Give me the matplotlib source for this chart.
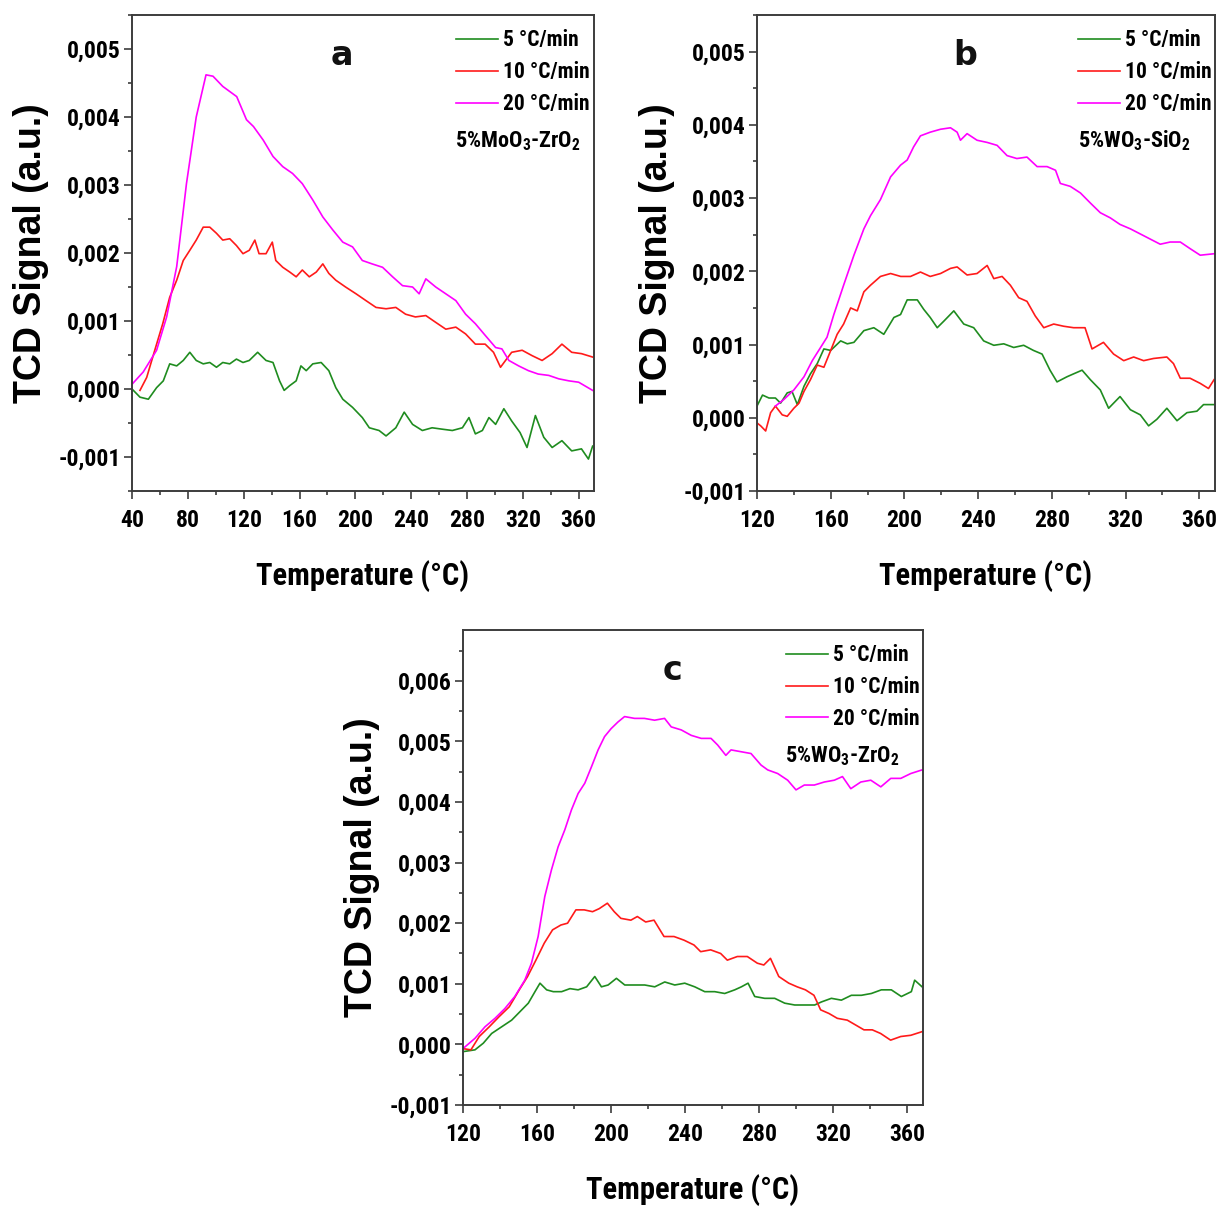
import os
import numpy as np
import matplotlib
matplotlib.use("Agg")
import matplotlib.pyplot as plt
from matplotlib import font_manager as fm
from matplotlib.ticker import MultipleLocator

# TCD signal (values in units of 1e-3 a.u.)
# panel a : 5%MoO3-ZrO2
a_green_T = [40, 45.7, 51.7, 57.6, 62.4, 67, 72, 76.7, 81.4, 86, 91, 95.7, 100.5, 105, 110, 114.8, 119.5, 124,
             130, 136, 141, 145.7, 149, 153, 157.6, 161, 164.8, 169.5, 175.5, 181, 186, 191, 198, 205, 210, 217,
             222, 229, 235, 241, 248, 255, 262, 269.5, 276.7, 281.4, 286, 291, 295.7, 300.5, 306.4, 312, 318,
             323, 329, 335, 341, 348, 355, 362, 367, 370]
a_green_v = [0, -0.12, -0.15, 0.02, 0.12, 0.37, 0.34, 0.42, 0.54, 0.42, 0.37, 0.39, 0.32, 0.39, 0.37, 0.44, 0.39, 0.42,
             0.54, 0.42, 0.39, 0.12, -0.02, 0.05, 0.12, 0.34, 0.27, 0.37, 0.39, 0.27, 0.02, -0.15, -0.27, -0.42, -0.57, -0.61,
             -0.69, -0.57, -0.34, -0.52, -0.61, -0.57, -0.59, -0.61, -0.57, -0.42, -0.66, -0.61, -0.42, -0.52, -0.29, -0.47, -0.64,
             -0.86, -0.39, -0.71, -0.86, -0.76, -0.91, -0.88, -1.03, -0.84]
a_red_T = [45.7, 50.5, 57.6, 62, 67, 72, 76.7, 81.4, 86, 91, 95.7, 100.5, 105, 110, 114.8, 119.5, 124, 128, 131, 136,
           140.5, 143, 148, 153, 157.6, 162, 167, 172, 176.7, 181, 186, 193, 200.5, 207.6, 214.8, 222, 229, 236, 243,
           250.5, 257.6, 264.8, 272, 279, 286, 293, 299, 304, 307.6, 312, 319.5, 326.7, 333.8, 341, 348, 355, 362, 370]
a_red_v = [-0.02, 0.17, 0.66, 0.96, 1.35, 1.6, 1.89, 2.04, 2.19, 2.38, 2.38, 2.29, 2.19, 2.21, 2.11, 1.99, 2.04, 2.19, 1.99, 1.99,
           2.16, 1.89, 1.79, 1.72, 1.65, 1.75, 1.65, 1.72, 1.84, 1.7, 1.6, 1.5, 1.4, 1.3, 1.2, 1.18, 1.2, 1.1, 1.06,
           1.08, 0.98, 0.88, 0.91, 0.81, 0.66, 0.66, 0.54, 0.32, 0.42, 0.54, 0.57, 0.49, 0.42, 0.52, 0.66, 0.54, 0.52, 0.47]
a_mag_T = [40, 48, 57.6, 64.8, 72, 79, 86, 93, 98, 105, 115, 122, 127, 134, 141, 148, 155, 162, 169.5, 176.7, 183.8,
           191, 198, 205, 212, 219.5, 226.7, 233.8, 241, 245.7, 250.5, 257.6, 264.8, 272, 279, 286, 293, 300.5, 305,
           310, 317, 324, 331, 338.6, 345.7, 353, 360, 370]
a_mag_v = [0.07, 0.25, 0.57, 1.06, 1.8, 3.02, 4.0, 4.62, 4.6, 4.45, 4.3, 3.96, 3.86, 3.66, 3.42, 3.27, 3.17, 3.02, 2.78, 2.53, 2.34,
           2.16, 2.09, 1.89, 1.84, 1.79, 1.65, 1.52, 1.5, 1.4, 1.62, 1.5, 1.4, 1.3, 1.1, 0.96, 0.79, 0.61, 0.59,
           0.42, 0.34, 0.27, 0.22, 0.2, 0.15, 0.12, 0.1, -0.02]

# panel b : 5%WO3-SiO2
b_green_T = [120, 123, 126.5, 130, 132.8, 136.4, 139, 141.9, 145.5, 149, 152.7, 156.3, 160, 165.4, 169, 172.6, 178,
             183.4, 188.8, 194.3, 197.9, 201.5, 207, 210.5, 214, 217.8, 221.4, 226.8, 232.2, 237.6, 243, 248.5, 253.9,
             259.3, 264.7, 270, 274.7, 279, 282.8, 288.2, 291.8, 296.4, 300.9, 306.3, 310.8, 317, 322.6, 328, 332.5,
             337, 342.4, 347.9, 353.3, 358.7, 362.3, 368]
b_green_v = [0.16, 0.31, 0.27, 0.27, 0.2, 0.34, 0.36, 0.18, 0.43, 0.6, 0.74, 0.94, 0.92, 1.05, 1.01, 1.03, 1.19,
             1.23, 1.14, 1.37, 1.41, 1.61, 1.61, 1.48, 1.37, 1.23, 1.32, 1.46, 1.28, 1.23, 1.05, 0.99, 1.01,
             0.96, 0.99, 0.92, 0.87, 0.65, 0.49, 0.56, 0.6, 0.65, 0.52, 0.38, 0.13, 0.29, 0.11, 0.04, -0.11,
             -0.02, 0.13, -0.04, 0.07, 0.09, 0.18, 0.18]
b_red_T = [120, 122, 124.7, 127.4, 130, 133.7, 136.4, 140, 142.8, 145.5, 149, 152.7, 156.3, 160, 163.5, 167, 170.8,
           174.4, 178, 181.6, 187, 192.5, 198, 203.3, 208.7, 214, 219.6, 225, 228.6, 234, 239.4, 244.9, 248.5, 253,
           257.5, 262, 266.5, 271, 275.6, 281, 286.4, 291.8, 298, 301.8, 308, 313.5, 319, 324.4, 329.8, 335.2,
           342.4, 346, 349.7, 355, 360.5, 365, 368]
b_red_v = [-0.07, -0.11, -0.18, 0.07, 0.16, 0.04, 0.02, 0.13, 0.2, 0.36, 0.52, 0.72, 0.69, 0.92, 1.14, 1.28, 1.5,
           1.46, 1.72, 1.81, 1.93, 1.97, 1.93, 1.93, 1.99, 1.93, 1.97, 2.04, 2.06, 1.95, 1.97, 2.08, 1.9, 1.93,
           1.81, 1.64, 1.59, 1.39, 1.23, 1.28, 1.25, 1.23, 1.23, 0.94, 1.03, 0.87, 0.78, 0.83, 0.78, 0.81,
           0.83, 0.74, 0.54, 0.54, 0.47, 0.4, 0.52]
b_mag_T = [130, 134.6, 140, 145.5, 150, 154.5, 158, 161.7, 167, 172.6, 178, 181.6, 187, 192.5, 197.9, 201.5, 205,
           208.7, 214, 219.6, 225, 228.6, 230.4, 234, 239.4, 244.9, 250.3, 255.7, 261, 266.5, 272, 277.4, 282,
           284.6, 290, 295.5, 301, 306.3, 311.7, 317, 322.6, 328, 333.4, 338.8, 344.2, 349.7, 355, 360.5, 368]
b_mag_v = [0.16, 0.25, 0.38, 0.56, 0.78, 0.96, 1.1, 1.41, 1.81, 2.22, 2.58, 2.76, 2.98, 3.29, 3.45, 3.52, 3.7,
           3.85, 3.9, 3.94, 3.96, 3.9, 3.79, 3.88, 3.79, 3.76, 3.72, 3.58, 3.54, 3.56, 3.43, 3.43, 3.38,
           3.2, 3.16, 3.07, 2.93, 2.8, 2.73, 2.64, 2.58, 2.51, 2.44, 2.37, 2.4, 2.4, 2.31, 2.22, 2.24]

# panel c : 5%WO3-ZrO2
c_green_T = [120, 126.5, 131, 135.5, 140.9, 146.3, 150.8, 155.3, 158.9, 161.6, 165.2, 168.8, 173.3, 177.8, 182.2,
             186.8, 191.2, 194.8, 198.4, 202.9, 207.4, 212.8, 218.2, 223.6, 229, 234.4, 239.8, 245.2, 250.6, 256,
             261.4, 266.8, 270.4, 274, 277.6, 283, 288.4, 293.8, 299.2, 304.6, 310, 313.6, 319, 324.4, 329.8,
             335.2, 340.6, 346, 351.4, 356.8, 362.2, 364, 368]
c_green_v = [-0.12, -0.09, 0.02, 0.18, 0.29, 0.4, 0.54, 0.68, 0.87, 1.01, 0.9, 0.87, 0.87, 0.92, 0.9,
             0.95, 1.12, 0.95, 0.98, 1.09, 0.98, 0.98, 0.98, 0.95, 1.03, 0.98, 1.01, 0.95, 0.87, 0.87,
             0.84, 0.9, 0.95, 1.01, 0.79, 0.76, 0.76, 0.68, 0.65, 0.65, 0.65, 0.7, 0.76, 0.73, 0.81,
             0.81, 0.84, 0.9, 0.9, 0.79, 0.87, 1.06, 0.95]
c_red_T = [120, 124.3, 128.8, 134.2, 139.6, 145, 150.4, 154.9, 159.4, 163.9, 168.4, 172.9, 176.5, 181, 185.5, 190,
           193.6, 198, 201.7, 205.3, 210.7, 214.2, 218.7, 223.2, 228.6, 234, 239.4, 244.8, 248.4, 253.8, 259.2,
           262.8, 268.2, 273.6, 279, 282.5, 286.1, 290.6, 296, 300.5, 305, 309.6, 313.2, 317.7, 322.2, 327.6,
           332.1, 336.6, 341.1, 345.6, 351, 356.5, 361.9, 368]
c_red_v = [-0.07, -0.09, 0.13, 0.29, 0.46, 0.62, 0.9, 1.12, 1.39, 1.67, 1.89, 1.97, 2.0, 2.22, 2.22, 2.19,
           2.24, 2.33, 2.19, 2.08, 2.05, 2.11, 2.02, 2.05, 1.78, 1.78, 1.72, 1.64, 1.53, 1.56, 1.5,
           1.39, 1.45, 1.45, 1.34, 1.31, 1.42, 1.12, 1.01, 0.95, 0.9, 0.81, 0.57, 0.51, 0.43, 0.4,
           0.32, 0.24, 0.24, 0.18, 0.07, 0.13, 0.15, 0.21]
c_mag_T = [120, 126.5, 131.9, 137.3, 142.6, 148, 153.4, 157, 160.6, 164.2, 167.8, 171.4, 175, 178.6, 182.2, 185.8,
           189.4, 193, 196.5, 200, 203.7, 207.3, 212.7, 218, 223.5, 228.9, 232.5, 237.9, 243.3, 248.7, 254,
           257.6, 262, 264.8, 270.2, 275.6, 281, 284.6, 290, 295.4, 299.9, 304.4, 309.8, 315.2, 320.6, 325,
           329.5, 334.9, 340.3, 345.7, 351.1, 356.5, 361.9, 368]
c_mag_v = [-0.07, 0.1, 0.29, 0.43, 0.59, 0.79, 1.06, 1.34, 1.78, 2.44, 2.88, 3.26, 3.54, 3.87, 4.14, 4.31,
           4.58, 4.86, 5.08, 5.21, 5.32, 5.41, 5.38, 5.38, 5.35, 5.38, 5.24, 5.19, 5.1, 5.05, 5.05,
           4.94, 4.77, 4.86, 4.83, 4.8, 4.61, 4.53, 4.47, 4.36, 4.2, 4.28, 4.28, 4.33, 4.36, 4.42,
           4.22, 4.33, 4.36, 4.25, 4.39, 4.39, 4.47, 4.53]

series_labels = ["5 °C/min", "10 °C/min", "20 °C/min"]
series_colors = ["#1f8c1f", "#ff1a1a", "#ff00ff"]


# the reference uses a condensed bold face (Arial Narrow); take one if the box has it
def find_narrow_bold():
    files = [f.fname for f in fm.fontManager.ttflist]
    for keys in (("liberationsansnarrow", "bold"), ("robotocondensed", "bold"),
                 ("dejavusanscondensed", "bold"), ("condensed", "bold"), ("narrow", "bold")):
        for f in files:
            b = os.path.basename(f).lower().replace("-", "").replace("_", "").replace(" ", "")
            if all(k in b for k in keys) and "italic" not in b and "oblique" not in b:
                return f
    return None


narrow_file = find_narrow_bold()
if narrow_file:
    NFP = fm.FontProperties(fname=narrow_file)
    tick_size, leg_size, lab_size, xl_size = 17, 15.5, 16, 22
else:
    NFP = fm.FontProperties(family="Liberation Sans", weight="bold")
    tick_size, leg_size, lab_size, xl_size = 15, 14, 14.5, 19


def fp(size):
    p = NFP.copy()
    p.set_size(size)
    return p


def comma_fmt(v):
    s = f"{v:.3f}".replace(".", ",")
    if s == "-0,000":
        s = "0,000"
    return s


def make_panel(ax, data, xlim, ylim, xmin, letter, sample):
    for (T, v), lab, col in zip(data, series_labels, series_colors):
        ax.plot(T, np.array(v) * 1e-3, color=col, lw=1.2, label=lab)
    ax.set_xlim(*xlim)
    ax.set_ylim(*ylim)
    xt = np.arange(xmin, xlim[1], 40)
    yt = np.arange(-0.001, ylim[1], 0.001)
    ax.set_xticks(xt)
    ax.set_xticklabels([f"{t:.0f}" for t in xt], fontproperties=fp(tick_size))
    ax.set_yticks(yt)
    ax.set_yticklabels([comma_fmt(t) for t in yt], fontproperties=fp(tick_size))
    ax.xaxis.set_minor_locator(MultipleLocator(20))
    ax.yaxis.set_minor_locator(MultipleLocator(0.0005))
    for s in ax.spines.values():
        s.set_color("#3c3c3c")
        s.set_linewidth(1.4)
    ax.tick_params(which="major", direction="out", length=6, width=1.2, color="#3c3c3c", pad=2)
    ax.tick_params(which="minor", direction="out", length=3, width=1.2, color="#3c3c3c")
    ax.tick_params(axis="x", which="major", pad=7)
    ax.set_ylabel("TCD Signal (a.u.)", family="Liberation Sans", fontsize=27, fontweight="bold")
    ax.yaxis.set_label_coords(-0.18, 0.5)
    ax.set_xlabel("Temperature (°C)", fontproperties=fp(xl_size))
    ax.xaxis.set_label_coords(0.5, -0.145)
    ax.legend(loc="upper left", bbox_to_anchor=(0.702, 0.97), frameon=False, prop=fp(leg_size),
              handlelength=1.95, handletextpad=0.23, labelspacing=0.46, borderaxespad=0, borderpad=0)
    ax.text(0.455, 0.915, letter, transform=ax.transAxes, ha="center", va="center",
            family="DejaVu Sans", fontsize=24, fontweight="bold", color="#111111")
    ax.text(0.70, 0.735, sample, transform=ax.transAxes, ha="left", va="center", fontproperties=fp(lab_size))


fig = plt.figure(figsize=(12.18, 12.10), dpi=100)
ax_a = fig.add_axes([0.1084, 0.5942, 0.3793, 0.3934])
ax_b = fig.add_axes([0.6215, 0.5942, 0.3760, 0.3934])
ax_c = fig.add_axes([0.3801, 0.0868, 0.3777, 0.3926])

make_panel(ax_a, [(a_green_T, a_green_v), (a_red_T, a_red_v), (a_mag_T, a_mag_v)],
           (40, 371), (-0.0015, 0.0055), 40, "a", r"5%MoO$_\mathregular{3}$-ZrO$_\mathregular{2}$")
make_panel(ax_b, [(b_green_T, b_green_v), (b_red_T, b_red_v), (b_mag_T, b_mag_v)],
           (120, 368.5), (-0.001, 0.0055), 120, "b", r"5%WO$_\mathregular{3}$-SiO$_\mathregular{2}$")
make_panel(ax_c, [(c_green_T, c_green_v), (c_red_T, c_red_v), (c_mag_T, c_mag_v)],
           (120, 368.5), (-0.001, 0.00684), 120, "c", r"5%WO$_\mathregular{3}$-ZrO$_\mathregular{2}$")

fig.savefig("out.png", dpi=100)
